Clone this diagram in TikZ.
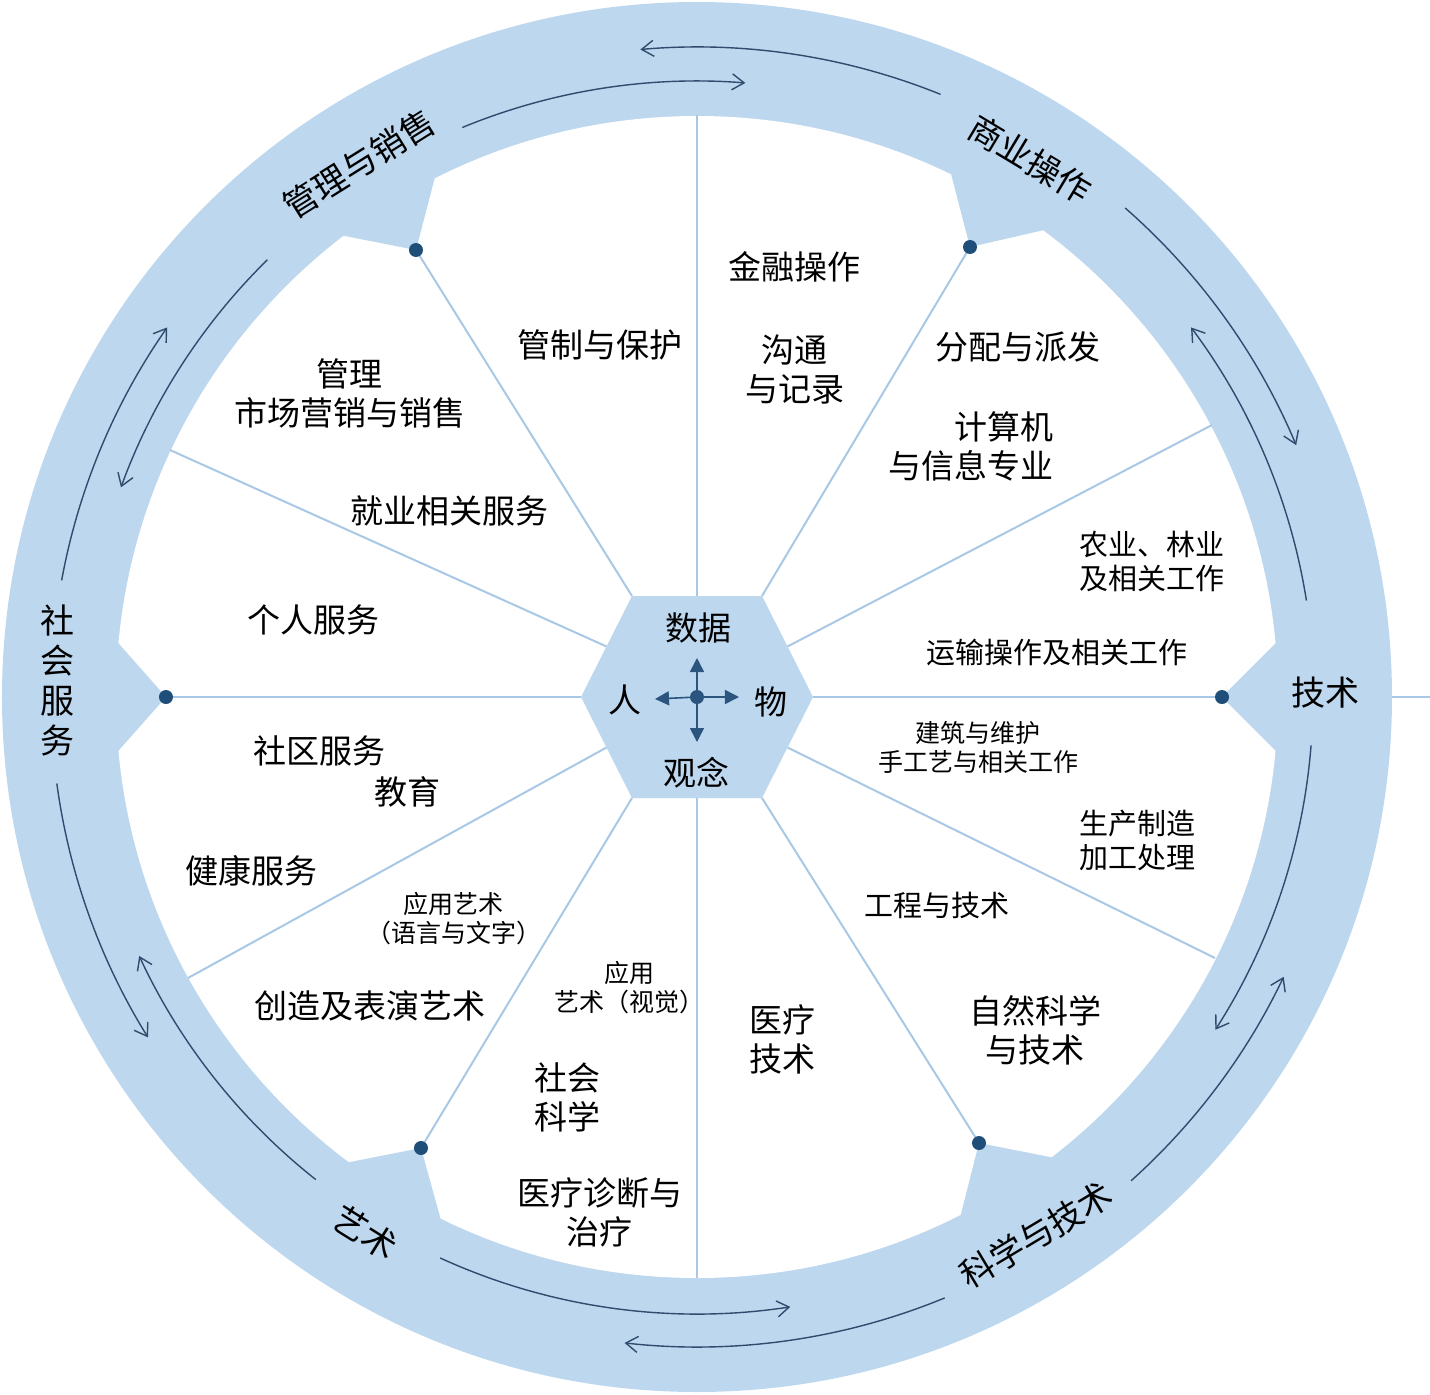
\documentclass[tikz,border=0pt]{standalone}
\usepackage{fontspec}
\newfontfamily\cjk{Noto Sans CJK SC}
\usetikzlibrary{arrows.meta}
\definecolor{ringblue}{HTML}{BDD7EE}
\definecolor{spokeblue}{HTML}{A9C8E6}
\definecolor{dotblue}{HTML}{1F4E79}
\definecolor{arcblue}{HTML}{2F4B6E}
\definecolor{cenblue}{HTML}{2B557F}
\begin{document}
\begin{tikzpicture}[x=0.5pt,y=0.5pt,
  lbl/.style={font=\cjk\fontsize{16.5}{19.5}\selectfont, align=center, inner sep=0pt},
  mid/.style={font=\cjk\fontsize{14.5}{17}\selectfont, align=center, inner sep=0pt},
  sml/.style={font=\cjk\fontsize{12.5}{14.5}\selectfont, align=center, inner sep=0pt},
  ringlbl/.style={font=\cjk\fontsize{17}{20}\selectfont, align=center, inner sep=0pt},
  spoke/.style={draw=spokeblue, line width=1pt},
  ringarc/.style={draw=arcblue, line width=0.7pt, -{Straight Barb[length=6pt,width=8pt]}},
  tabdot/.style={circle, fill=dotblue, inner sep=0pt, minimum size=7pt},
  cenarrow/.style={draw=cenblue, line width=0.8pt, -{Triangle[length=7pt,width=7pt]}},
  tabfill/.style={fill=ringblue}
]
\useasboundingbox (-697,-697) rectangle (733,697);
% ring
\fill[ringblue] (0,0) circle[radius=695];
\fill[white] (0,0) circle[radius=581];
% dots coordinates
\coordinate (d0) at (525,0);
\coordinate (d60) at (273,450);
\coordinate (d120) at (-281,447);
\coordinate (d180) at (-531,0);
\coordinate (d240) at (-276,-451);
\coordinate (d300) at (282,-446);
% tabs
\foreach \a/\d in {0/d0, 58.75/d60, 122.15/d120, 180/d180, 238.5/d240, 302.3/d300}{
  \fill[tabfill] (\a+5.3:581) -- (\d) -- (\a-5.3:581) -- (\a-5.3:600) -- (\a+5.3:600) -- cycle;
}
% hexagon vertices
\coordinate (hl) at (-116,0);
\coordinate (hul) at (-65,101);
\coordinate (hur) at (65,101);
\coordinate (hr) at (116,0);
\coordinate (hlr) at (65,-101);
\coordinate (hll) at (-65,-101);
% edge midpoints
\coordinate (mur) at (90.5,50.5);
\coordinate (mlr) at (90.5,-50.5);
\coordinate (mul) at (-90.5,50.5);
\coordinate (mll) at (-90.5,-50.5);
\coordinate (mt) at (0,101);
\coordinate (mb) at (0,-101);
% rim end points
\coordinate (rt) at (0,582);
\coordinate (rb) at (0,-581);
\coordinate (rur) at (515,272);
\coordinate (rlr) at (518,-261);
\coordinate (rul) at (-527,247);
\coordinate (rll) at (-509,-281);
\coordinate (ro) at (695,0);
\coordinate (re) at (733,0);
% spokes
\draw[spoke] (mt) -- (rt);
\draw[spoke] (mb) -- (rb);
\draw[spoke] (hr) -- (d0);
\draw[spoke] (hl) -- (d180);
\draw[spoke] (hul) -- (d120);
\draw[spoke] (hur) -- (d60);
\draw[spoke] (hll) -- (d240);
\draw[spoke] (hlr) -- (d300);
\draw[spoke] (mur) -- (rur);
\draw[spoke] (mlr) -- (rlr);
\draw[spoke] (mul) -- (rul);
\draw[spoke] (mll) -- (rll);
\draw[spoke] (ro) -- (re);
% hexagon
\fill[ringblue] (hl) -- (hul) -- (hur) -- (hr) -- (hlr) -- (hll) -- cycle;
% tab dots
\foreach \d in {d0,d60,d120,d180,d240,d300}{
  \node[tabdot] (n\d) at (\d) {};
}
% centre
\node[tabdot, fill=cenblue] (cen) at (0,0) {};
\coordinate (cu) at (0,39);
\coordinate (cd) at (0,-45);
\coordinate (cl) at (-42,-2);
\coordinate (cr) at (42,0);
\draw[cenarrow] (cen.center) -- (cu);
\draw[cenarrow] (cen.center) -- (cd);
\draw[cenarrow] (cen.center) -- (cl);
\draw[cenarrow] (cen.center) -- (cr);
% ring arrows
\draw[ringarc] (112.4:616) arc[start angle=112.4, end angle=85.5, radius=616];
\draw[ringarc] (68:650) arc[start angle=68, end angle=95, radius=650];
\draw[ringarc] (48.8:650) arc[start angle=48.8, end angle=22.8, radius=650];
\draw[ringarc] (9:617) arc[start angle=9, end angle=36.8, radius=617];
\draw[ringarc] (-4.5:616) arc[start angle=-4.5, end angle=-32.7, radius=616];
\draw[ringarc] (-48.1:650) arc[start angle=-48.1, end angle=-25.5, radius=650];
\draw[ringarc] (245.4:617) arc[start angle=245.4, end angle=278.7, radius=617];
\draw[ringarc] (292.4:650) arc[start angle=292.4, end angle=263.6, radius=650];
\draw[ringarc] (187.7:646) arc[start angle=187.7, end angle=211.8, radius=646];
\draw[ringarc] (231.7:615) arc[start angle=231.7, end angle=204.9, radius=615];
\draw[ringarc] (134.5:613) arc[start angle=134.5, end angle=160, radius=613];
\draw[ringarc] (169.6:646) arc[start angle=169.6, end angle=145.1, radius=646];
% ring labels
\node[ringlbl] (t0) at (628,4) {技术};
\node[ringlbl, rotate=-31] (t60) at (333,538) {商业操作};
\node[ringlbl, rotate=32] (t120) at (-338,533) {管理与销售};
\node[ringlbl] (t180) at (-639,17) {社\\会\\服\\务};
\node[ringlbl, rotate=-32] (t240) at (-332,-536) {艺术};
\node[ringlbl, rotate=31] (t300) at (339,-538) {科学与技术};
% centre labels
\node[lbl] (sj) at (2,69) {数据};
\node[lbl] (ren) at (-72,-3) {人};
\node[lbl] (wu) at (74,-5) {物};
\node[lbl] (gn) at (0,-76) {观念};
% interior labels
\node[lbl] (a1) at (98,430) {金融操作};
\node[lbl] (a2) at (-97,352) {管制与保护};
\node[lbl] (a3) at (98,328) {沟通\\与记录};
\node[lbl] (a4) at (321,350) {分配与派发};
\node[lbl] (a5) at (-347,304) {管理\\市场营销与销售};
\node[lbl, align=right, anchor=east] (a6) at (357,251) {计算机\\与信息专业};
\node[lbl] (a7) at (-247,186) {就业相关服务};
\node[mid] (a8) at (455,136) {农业、林业\\及相关工作};
\node[lbl] (a9) at (-383,77) {个人服务};
\node[mid] (a10) at (360,45) {运输操作及相关工作};
\node[sml] (a11) at (281,-50) {建筑与维护\\手工艺与相关工作};
\node[lbl] (a12) at (-377,-54) {社区服务};
\node[lbl] (a13) at (-289,-95) {教育};
\node[mid] (a14) at (440,-143) {生产制造\\加工处理};
\node[lbl] (a15) at (-445,-174) {健康服务};
\node[mid] (a16) at (240,-208) {工程与技术};
\node[sml] (a17) at (-243,-222) {应用艺术\\（语言与文字）};
\node[sml] (a18) at (-67,-291) {应用\\艺术（视觉）};
\node[lbl] (a19) at (-327,-309) {创造及表演艺术};
\node[lbl] (a20) at (338,-333) {自然科学\\与技术};
\node[lbl] (a21) at (86,-342) {医疗\\技术};
\node[lbl] (a22) at (-129,-400) {社会\\科学};
\node[lbl] (a23) at (-97,-515) {医疗诊断与\\治疗};
\end{tikzpicture}
\end{document}
